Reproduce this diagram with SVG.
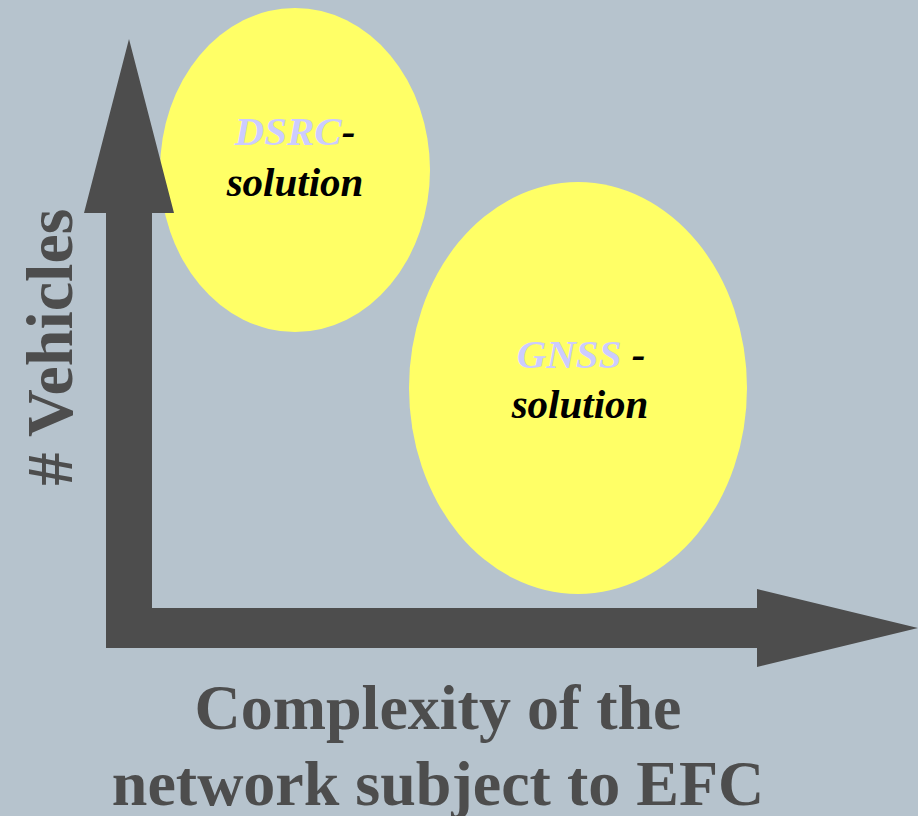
<svg xmlns="http://www.w3.org/2000/svg" width="918" height="816" viewBox="0 0 918 816">
<style>
.bubble{fill:#FFFF66;}
.axis{fill:#4D4D4D;}
.lab{font-family:"Liberation Serif","Times New Roman",serif;font-weight:bold;font-style:italic;font-size:41px;text-anchor:middle;fill:#000000;}
.hl{fill:#CCCCFF;}
.ax{font-family:"Liberation Serif","Times New Roman",serif;font-weight:bold;font-size:64px;text-anchor:middle;fill:#4D4D4D;}
</style>
<rect width="918" height="816" fill="#B6C3CD"/>
<g id="dsrc">
<ellipse class="bubble" cx="295" cy="170" rx="135" ry="162"/>
<text class="lab" x="295" y="145"><tspan class="hl">DSRC</tspan>-</text>
<text class="lab" x="295" y="196">solution</text>
</g>
<g id="gnss">
<ellipse class="bubble" cx="578" cy="388" rx="169" ry="206"/>
<text class="lab" x="581" y="368"><tspan class="hl">GNSS</tspan> -</text>
<text class="lab" x="580" y="418">solution</text>
</g>
<g id="axes">
<polygon class="axis" points="129,39 174,213 152,213 152,608 757,608 757,589 918,628 757,667 757,648 106,648 106,213 84,213"/>
</g>
<g id="ylabel">
<text class="ax" style="font-size:66px" transform="translate(72,347) rotate(-90)">#  Vehicles</text>
</g>
<g id="xlabel">
<text class="ax" x="438" y="729">Complexity of the</text>
<text class="ax" x="438" y="805">network subject to EFC</text>
</g>
</svg>
